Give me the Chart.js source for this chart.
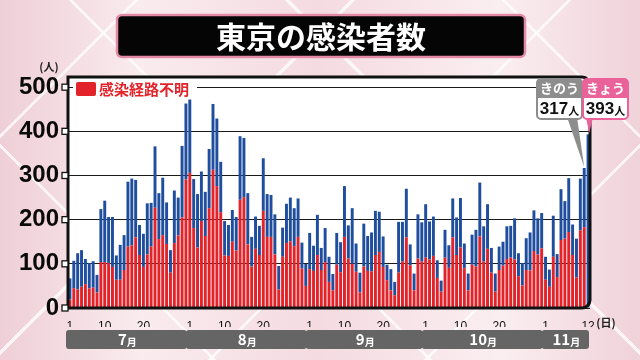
<!DOCTYPE html>
<html lang="ja">
<head>
<meta charset="UTF-8">
<title>東京の感染者数</title>
<script src="https://cdn.jsdelivr.net/npm/chart.js"></script>
<style>
  html, body { margin: 0; padding: 0; }
  body {
    width: 640px; height: 360px; overflow: hidden;
    background:
      repeating-linear-gradient(45deg, rgba(255,255,255,0) 0 150px, rgba(255,255,255,.75) 150px 153px),
      repeating-linear-gradient(-45deg, rgba(255,255,255,0) 0 150px, rgba(255,255,255,.75) 150px 153px),
      linear-gradient(90deg, #efcfd7 0%, #f9ebee 22%, #f4dbe1 50%, #faeef1 78%, #f0d2d9 100%);
  }
  canvas { display: block; }
</style>
</head>
<body>
<canvas id="chart" width="640" height="360"></canvas>
<script>
// months shown on the axis and how many days of each are plotted
const months = ['7', '8', '9', '10', '11'];
const monthDays = [31, 31, 30, 31, 12];

// daily new cases (all)
const total = [
  67, 107, 124, 131, 111, 102, 106, 75, 224, 243, 206, 206, 119, 143, 165, 286, 293, 290, 188, 168, 237, 238, 366, 260, 295, 239, 131, 266, 250, 367, 463,
  472, 292, 258, 309, 263, 360, 462, 429, 331, 197, 188, 222, 206, 389, 385, 260, 161, 207, 186, 339, 258, 256, 212, 95, 182, 236, 250, 226, 248, 148, 100,
  170, 141, 211, 136, 181, 116, 77, 170, 149, 276, 187, 226, 146, 80, 191, 163, 171, 220, 218, 162, 98, 88, 59, 195, 195, 270, 144, 78, 212, 194,
  235, 196, 207, 108, 62, 177, 142, 248, 205, 249, 146, 78, 166, 177, 284, 185, 235, 136, 78, 139, 150, 185, 186, 203, 124, 102, 158, 171, 221, 203, 215,
  116, 87, 209, 122, 269, 242, 294, 189, 157, 293, 317, 393
];

// cases with unknown infection route (red part)
const unknown = [
  19, 45, 42, 48, 54, 44, 46, 35, 104, 104, 102, 93, 64, 64, 86, 139, 142, 160, 120, 93, 121, 139, 227, 156, 165, 145, 80, 147, 164, 205, 291,
  306, 181, 137, 197, 163, 226, 313, 276, 217, 119, 118, 150, 130, 245, 251, 144, 94, 134, 120, 220, 161, 161, 121, 42, 116, 147, 151, 140, 161, 89, 50,
  88, 84, 120, 86, 104, 59, 40, 98, 81, 161, 112, 100, 82, 35, 94, 84, 83, 120, 127, 93, 63, 40, 29, 80, 105, 160, 97, 40, 112, 105,
  114, 110, 118, 68, 37, 114, 91, 160, 120, 137, 90, 40, 98, 94, 162, 105, 134, 80, 37, 86, 96, 111, 114, 110, 72, 51, 86, 85, 129, 121, 135,
  64, 48, 116, 70, 154, 157, 172, 120, 69, 176, 183, 0
];

const yTicks = [0, 100, 200, 300, 400, 500];
const dayTicks = [1, 10, 20];
const callouts = [
  { text: 'きのう', color: '#8d8d8d' },
  { text: 'きょう', color: '#e9629a' }
];

const labels = [];
const dayNum = [];
const monthLen = [];
months.forEach((m, k) => {
  for (let d = 1; d <= monthDays[k]; d++) {
    labels.push(m + '/' + d);
    dayNum.push(d);
    monthLen.push(monthDays[k]);
  }
});

const RED = '#e2232a';
const BLUE = '#1f4e9e';
const JP = '"Noto Sans CJK JP", "Noto Sans", sans-serif';

function roundRect(c, x, y, w, h, r) {
  c.beginPath();
  c.moveTo(x + r, y);
  c.arcTo(x + w, y, x + w, y + h, r);
  c.arcTo(x + w, y + h, x, y + h, r);
  c.arcTo(x, y + h, x, y, r);
  c.arcTo(x, y, x + w, y, r);
  c.closePath();
}

// draws the title, frame, legend, month strip and the two callouts
const decor = {
  id: 'decor',
  beforeDraw(chart) {
    const c = chart.ctx, a = chart.chartArea;
    c.save();
    c.fillStyle = '#fff';
    c.fillRect(a.left, a.top, a.right - a.left, a.bottom - a.top);

    // title
    roundRect(c, 117, 15, 408, 42, 5);
    c.fillStyle = '#050505';
    c.fill();
    c.lineWidth = 2.5;
    c.strokeStyle = '#e58aa6';
    c.stroke();
    c.fillStyle = '#fff';
    c.font = 'bold 30px ' + JP;
    c.textAlign = 'center';
    c.textBaseline = 'middle';
    c.fillText('東京の感染者数', 321, 37);
    c.restore();
  },
  afterDraw(chart) {
    const c = chart.ctx, a = chart.chartArea;
    const xs = chart.scales.x, ys = chart.scales.y;
    c.save();

    // frame
    const r = 8;
    c.beginPath();
    c.moveTo(a.left, a.top);
    c.lineTo(a.right - r, a.top);
    c.arcTo(a.right, a.top, a.right, a.top + r, r);
    c.lineTo(a.right, a.bottom - r);
    c.arcTo(a.right, a.bottom, a.right - r, a.bottom, r);
    c.lineTo(a.left, a.bottom);
    c.closePath();
    c.lineWidth = 3;
    c.strokeStyle = '#111';
    c.stroke();

    // tick squares on the value axis
    yTicks.forEach(v => {
      const y = ys.getPixelForValue(v);
      c.fillStyle = '#fff';
      c.fillRect(a.left - 6, y - 3, 6, 6);
      c.lineWidth = 1.3;
      c.strokeStyle = '#111';
      c.strokeRect(a.left - 6, y - 3, 6, 6);
    });

    // units
    c.fillStyle = '#222';
    c.font = 'bold 11px ' + JP;
    c.textAlign = 'center';
    c.textBaseline = 'middle';
    c.fillText('(人)', 49, 67);
    c.fillText('(日)', 606, 323);

    // legend
    c.fillStyle = '#fff';
    c.fillRect(a.left + 5, a.top + 3, 124, 17);
    roundRect(c, a.left + 8, a.top + 5, 20, 14, 2);
    c.fillStyle = RED;
    c.fill();
    c.font = 'bold 15px ' + JP;
    c.textAlign = 'left';
    c.fillText(chart.data.datasets[0].label, a.left + 31, a.top + 12);

    // month strip
    const step = xs.getPixelForValue(1) - xs.getPixelForValue(0);
    let start = 0;
    months.forEach((m, k) => {
      const x0 = xs.getPixelForValue(start) - step / 2 - 2;
      const x1 = xs.getPixelForValue(start + monthDays[k] - 1) + step / 2 + 1;
      start += monthDays[k];
      roundRect(c, x0, 330, x1 - x0 - 2, 19, 3);
      c.fillStyle = '#656565';
      c.fill();
      c.fillStyle = '#fff';
      c.font = 'bold 15px ' + JP;
      const w1 = c.measureText(m).width;
      c.font = 'bold 10px ' + JP;
      const w2 = c.measureText('月').width;
      const cx = (x0 + x1) / 2 - (w1 + w2) / 2;
      c.textAlign = 'left';
      c.font = 'bold 15px ' + JP;
      c.fillText(m, cx, 339);
      c.font = 'bold 10px ' + JP;
      c.fillText('月', cx + w1, 342);
    });

    // callouts for yesterday and today
    const n = total.length;
    const boxes = [{ x: 537, i: n - 2 }, { x: 583, i: n - 1 }];
    boxes.forEach((b, k) => {
      const tipX = xs.getPixelForValue(b.i);
      const tipY = ys.getPixelForValue(total[b.i]) - 1;
      const col = callouts[k].color;
      c.beginPath();
      if (k === 0) {
        c.moveTo(b.x + 30, 117);
        c.lineTo(b.x + 40, 117);
        c.lineTo(tipX, tipY);
      } else {
        c.moveTo(b.x + 3, 117);
        c.lineTo(b.x + 10, 117);
        c.lineTo(tipX + 1, tipY);
      }
      c.closePath();
      c.fillStyle = col;
      c.fill();

      roundRect(c, b.x, 79, 45, 40, 4);
      c.fillStyle = '#fff';
      c.fill();
      c.lineWidth = 2;
      c.strokeStyle = col;
      c.stroke();
      roundRect(c, b.x, 79, 45, 19, 4);
      c.fillStyle = col;
      c.fill();
      c.fillRect(b.x, 92, 45, 6);

      c.fillStyle = '#fff';
      c.font = 'bold 13px ' + JP;
      c.textAlign = 'center';
      c.fillText(callouts[k].text, b.x + 22.5, 88);

      c.fillStyle = '#111';
      c.font = 'bold 17px "Liberation Sans Narrow", "Liberation Sans", sans-serif';
      const num = String(total[b.i]);
      const wn = c.measureText(num).width;
      c.font = 'bold 11px ' + JP;
      const wp = c.measureText('人').width;
      const sx = b.x + 22.5 - (wn + wp) / 2;
      c.textAlign = 'left';
      c.font = 'bold 17px "Liberation Sans Narrow", "Liberation Sans", sans-serif';
      c.fillText(num, sx, 109);
      c.font = 'bold 11px ' + JP;
      c.fillText('人', sx + wn, 111);
    });

    c.restore();
  }
};

new Chart(document.getElementById('chart'), {
  type: 'bar',
  data: {
    labels: labels,
    datasets: [
      {
        label: '感染経路不明',
        data: unknown,
        backgroundColor: RED,
        categoryPercentage: 1,
        barPercentage: 0.76
      },
      {
        label: '感染経路判明',
        data: total.map((t, i) => t - unknown[i]),
        backgroundColor: BLUE,
        categoryPercentage: 1,
        barPercentage: 0.76
      }
    ]
  },
  options: {
    responsive: false,
    animation: false,
    layout: { padding: { left: 6, right: 50, top: 77, bottom: 33 } },
    plugins: { legend: { display: false }, tooltip: { enabled: false } },
    scales: {
      x: {
        stacked: true,
        grid: { display: false },
        border: { display: false },
        ticks: {
          autoSkip: false,
          maxRotation: 0,
          padding: 3,
          color: '#111',
          font: { family: '"Liberation Sans Narrow", "Liberation Sans", sans-serif', size: 12 },
          callback: function (v, i) {
            const d = dayNum[i];
            if (i === total.length - 1) return String(d);
            // skip labels that would crowd the last day
            if (dayTicks.includes(d) && monthLen[i] - d > 3) return String(d);
            return '';
          }
        },
        afterFit: s => { s.height = 19; }
      },
      y: {
        stacked: true,
        min: 0,
        max: 523,
        border: { display: false },
        grid: { color: '#1a1a1a', lineWidth: 1, drawTicks: false },
        ticks: {
          padding: 9,
          color: '#0a0a0a',
          font: { family: '"Liberation Sans", Arial, sans-serif', size: 24, weight: 'bold' }
        },
        afterBuildTicks: s => { s.ticks = yTicks.map(v => ({ value: v })); },
        afterFit: s => { s.width = 62; }
      }
    }
  },
  plugins: [decor]
});
</script>
</body>
</html>
